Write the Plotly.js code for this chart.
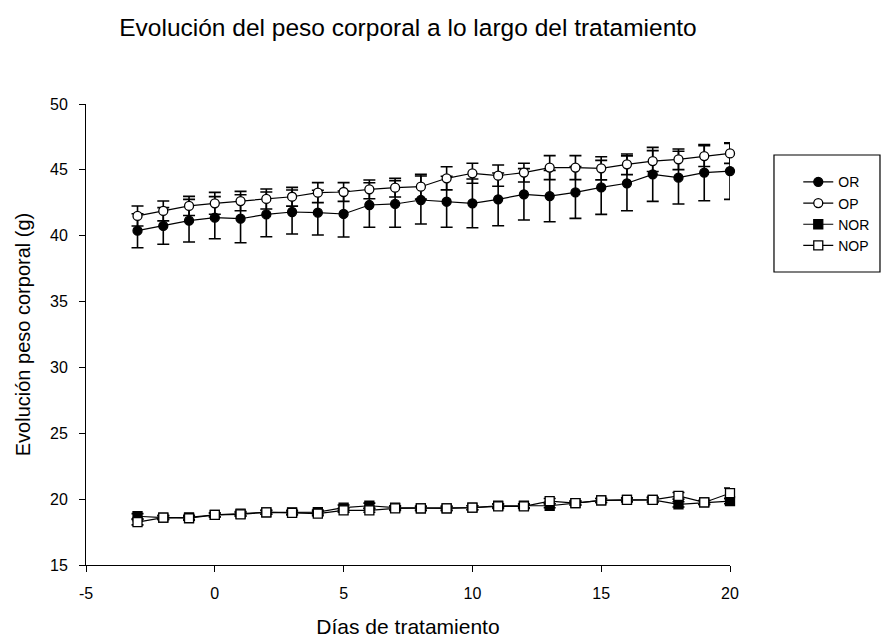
<!DOCTYPE html>
<html>
<head>
<meta charset="utf-8">
<script src="https://cdn.plot.ly/plotly-3.0.1.min.js"></script>
<style>html,body{margin:0;padding:0;background:#fff;}#chart{width:881px;height:642px;}</style>
</head>
<body>
<div id="chart"></div>
<script>
const days = [-3,-2,-1,0,1,2,3,4,5,6,7,8,9,10,11,12,13,14,15,16,17,18,19,20];

const orMean = [40.38,40.74,41.14,41.37,41.29,41.62,41.80,41.75,41.65,42.33,42.41,42.71,42.58,42.46,42.76,43.14,43.01,43.29,43.67,43.98,44.66,44.41,44.79,44.91];
const orErr  = [1.29,1.39,1.62,1.60,1.82,1.70,1.67,1.70,1.75,1.69,1.77,1.82,1.94,1.85,2.00,1.95,1.95,1.97,2.05,2.08,2.05,2.00,2.13,2.15];

const opMean = [41.50,41.88,42.26,42.46,42.63,42.79,42.96,43.27,43.32,43.52,43.65,43.72,44.36,44.74,44.56,44.79,45.17,45.17,45.12,45.42,45.67,45.80,46.05,46.25];
const opErr  = [0.76,0.75,0.73,0.83,0.74,0.76,0.71,0.76,0.71,0.71,0.71,0.94,0.88,0.76,0.81,0.71,0.91,0.91,0.88,0.78,0.79,0.78,0.79,0.76];

const norMean = [18.70,18.60,18.62,18.80,18.90,19.00,19.00,19.02,19.35,19.50,19.35,19.30,19.30,19.35,19.50,19.50,19.50,19.70,19.90,19.95,19.95,19.60,19.75,19.85];
const norErr  = [0.20,0.15,0.15,0.15,0.15,0.15,0.15,0.15,0.20,0.20,0.15,0.15,0.15,0.15,0.15,0.15,0.15,0.15,0.15,0.15,0.20,0.20,0.15,0.20];

const nopMean = [18.25,18.60,18.55,18.80,18.85,19.00,18.95,18.90,19.15,19.15,19.30,19.30,19.30,19.35,19.45,19.45,19.85,19.70,19.90,19.95,19.95,20.25,19.75,20.45];
const nopErr  = [0.20,0.15,0.15,0.15,0.15,0.15,0.15,0.15,0.15,0.15,0.15,0.15,0.15,0.15,0.15,0.15,0.20,0.15,0.15,0.15,0.15,0.25,0.15,0.40];

const names = ["OR","OP","NOR","NOP"];
const xTicks = [-5,0,5,10,15,20];
const yTicks = [15,20,25,30,35,40,45,50];

function trace(name, y, err, symbol, fill) {
  return {
    x: days, y: y, name: name, type: 'scatter', mode: 'lines+markers',
    cliponaxis: false,
    line: {color: '#000', width: 1.2},
    marker: {symbol: symbol, size: 9, color: fill, line: {color: '#000', width: 1.3}},
    error_y: {type: 'data', array: err, visible: true, color: '#000', thickness: 1.6, width: 6}
  };
}

const data = [
  trace(names[0], orMean, orErr, 'circle', '#000'),
  trace(names[1], opMean, opErr, 'circle', '#fff'),
  trace(names[2], norMean, norErr, 'square', '#000'),
  trace(names[3], nopMean, nopErr, 'square', '#fff')
];

const fontFam = '"Liberation Sans", Arial, sans-serif';
const layout = {
  width: 881, height: 642,
  margin: {l: 86, r: 151, t: 104, b: 77, autoexpand: false},
  paper_bgcolor: '#fff', plot_bgcolor: '#fff',
  font: {family: fontFam, color: '#000', size: 16},
  title: {text: 'Evolución del peso corporal a lo largo del tratamiento',
          font: {family: fontFam, size: 24.5, color: '#000'},
          xref: 'paper', x: 0.5, xanchor: 'center', yref: 'container', y: 0.957, yanchor: 'middle'},
  xaxis: {
    range: [-5, 20], tickvals: xTicks, ticktext: xTicks.map(String),
    showline: true, linecolor: '#000', linewidth: 1, mirror: false,
    ticks: 'outside', ticklen: 6, tickcolor: '#000', tickwidth: 1,
    showgrid: false, zeroline: false, ticklabelstandoff: 8,
    tickfont: {size: 16},
    title: {text: 'Días de tratamiento', font: {size: 21}, standoff: 18}
  },
  yaxis: {
    range: [15, 50], tickvals: yTicks, ticktext: yTicks.map(String),
    showline: true, linecolor: '#000', linewidth: 1, mirror: false,
    ticks: 'outside', ticklen: 6, tickcolor: '#000', tickwidth: 1,
    showgrid: false, zeroline: false, ticklabelstandoff: 8,
    tickfont: {size: 16},
    title: {text: 'Evolución peso corporal (g)', font: {size: 20}, standoff: 14}
  },
  showlegend: true,
  legend: {x: 1.106, y: 0.865, xanchor: 'left', yanchor: 'top',
           bgcolor: 'rgba(0,0,0,0)', borderwidth: 0,
           font: {size: 14, color: '#000'}, tracegroupgap: 0},
  shapes: [{type: 'rect', xref: 'paper', yref: 'paper',
            x0: 1.0683, x1: 1.2329, y0: 0.6356, y1: 0.8894,
            line: {color: '#000', width: 1.2}, fillcolor: 'rgba(0,0,0,0)'}]
};

Plotly.newPlot('chart', data, layout, {displayModeBar: false, staticPlot: true});
</script>
</body>
</html>
